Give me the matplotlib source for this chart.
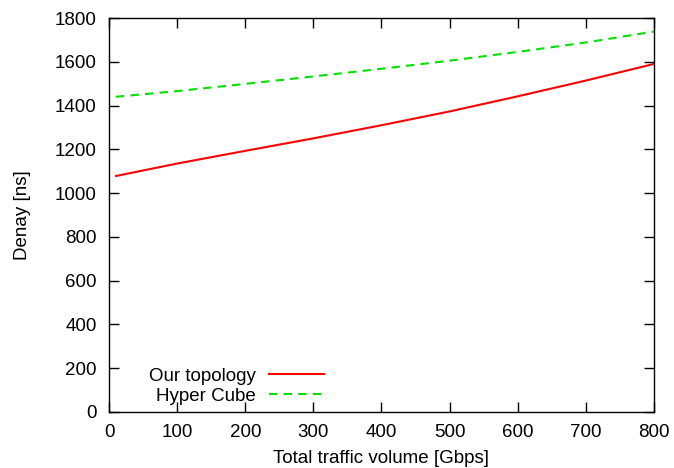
import numpy as np
import matplotlib.pyplot as plt

plt.rcParams['font.family'] = ['Liberation Sans', 'DejaVu Sans']

# data
traffic = [10, 100, 200, 300, 400, 500, 600, 700, 800]
our_topology = [1078, 1135, 1193, 1250, 1310, 1373, 1442, 1514, 1590]
hyper_cube = [1440, 1466, 1499, 1533, 1568, 1605, 1645, 1688, 1738]

fig = plt.figure(figsize=(6.74, 4.68), dpi=100)
ax = fig.add_axes([0.162, 0.120, 0.808, 0.8415])

ax.plot(traffic, our_topology, color='#ff0000', lw=1.5, label='Our topology')
ax.plot(traffic, hyper_cube, color='#00e000', lw=1.5, dashes=(4, 3), label='Hyper Cube')

ax.set_xlim(0, 800)
ax.set_ylim(0, 1800)
ax.set_xticks(range(0, 801, 100))
ax.set_yticks(range(0, 1801, 200))
ax.tick_params(direction='in', length=7, width=1, top=True, right=True, labelsize=13.5, pad=9)
for s in ax.spines.values():
    s.set_linewidth(1)

ax.set_xlabel('Total traffic volume [Gbps]', fontsize=13.5, labelpad=6)
ax.set_ylabel('Denay [ns]', fontsize=13.5, labelpad=17)

ax.legend(loc='lower left', bbox_to_anchor=(0.0425, -0.025), frameon=False, markerfirst=False,
          fontsize=13.5, handlelength=2.9, handletextpad=0.7, labelspacing=0.15)
for t in ax.get_legend().get_texts():
    t.set_ha('right')

fig.savefig('out.png', dpi=100)
